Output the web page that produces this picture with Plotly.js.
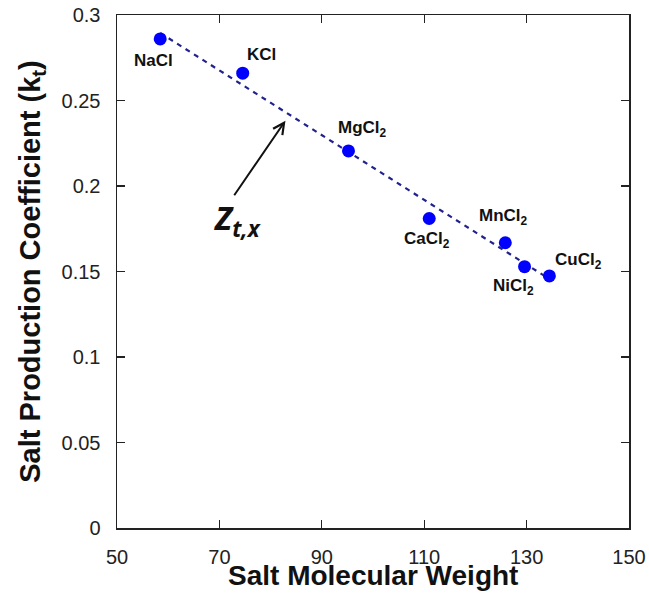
<!DOCTYPE html>
<html>
<head>
<meta charset="utf-8">
<script src="https://cdn.plot.ly/plotly-3.0.1.min.js"></script>
<style>html,body{margin:0;padding:0;background:#fff;}#chart{width:649px;height:605px;}</style>
</head>
<body>
<div id="chart"></div>
<script>
// Data
const salts = ["NaCl", "KCl", "MgCl<sub>2</sub>", "CaCl<sub>2</sub>", "MnCl<sub>2</sub>", "NiCl<sub>2</sub>", "CuCl<sub>2</sub>"];
const molecularWeight = [58.44, 74.55, 95.21, 110.98, 125.84, 129.6, 134.45];
const saltCoefficient = [0.286, 0.266, 0.2205, 0.181, 0.1668, 0.1528, 0.1474];
const fitX = [58.44, 134.45];
const fitY = [0.2895, 0.1456];
const arrowTail = [72.7, 0.1937];
const arrowHead = [82.9, 0.2382];
const xTicks = [50, 70, 90, 110, 130, 150];
const yTicks = [0, 0.05, 0.1, 0.15, 0.2, 0.25, 0.3];
const xTitle = 'Salt Molecular Weight';
const yTitle = 'Salt Production Coefficient (k<sub>t</sub>)';

// label offsets (pixels)
const labelShift = [[-7, -22], [19, 19], [14, 22], [-2, -22], [-2, 26], [-11, -20], [29, 15]];

const annotations = salts.map((s, i) => ({
  x: molecularWeight[i], y: saltCoefficient[i], xref: 'x', yref: 'y',
  text: '<b>' + s + '</b>', showarrow: false,
  xshift: labelShift[i][0], yshift: labelShift[i][1],
  font: {family: 'Liberation Sans, Arial, sans-serif', size: 17, color: '#111'}
}));
annotations.push({
  x: arrowHead[0], y: arrowHead[1], ax: arrowTail[0], ay: arrowTail[1],
  xref: 'x', yref: 'y', axref: 'x', ayref: 'y',
  showarrow: true, arrowhead: 5, arrowsize: 1.1, arrowwidth: 2, arrowcolor: '#111', text: ''
});
annotations.push({
  x: arrowTail[0], y: arrowTail[1], xref: 'x', yref: 'y',
  text: '<b><i>Z<sub>t,x</sub></i></b>', showarrow: false,
  xanchor: 'center', yanchor: 'top', xshift: 4, yshift: 3,
  font: {family: 'Open Sans, Liberation Sans, sans-serif', size: 32, color: '#111'}
});
// x-axis title placed to overlap the tick label band as in the reference
annotations.push({
  x: 0.5, y: 0, xref: 'paper', yref: 'paper',
  text: '<b>' + xTitle + '</b>', showarrow: false,
  xanchor: 'center', yanchor: 'middle', yshift: -47,
  font: {family: 'Liberation Sans, Arial, sans-serif', size: 28, color: '#111'}
});

const traces = [
  {
    x: fitX, y: fitY, mode: 'lines', type: 'scatter',
    line: {color: '#22228f', width: 2.2, dash: '5px,5px'}, hoverinfo: 'skip'
  },
  {
    x: molecularWeight, y: saltCoefficient, mode: 'markers', type: 'scatter',
    marker: {color: '#0000ff', size: 13, line: {width: 0}}
  }
];

const axisCommon = {
  showline: true, linecolor: '#222', linewidth: 1.5, mirror: 'ticks',
  ticks: 'inside', ticklen: 8, tickwidth: 1.2, tickcolor: '#222',
  showgrid: false, zeroline: false,
  tickfont: {family: 'Liberation Sans, Arial, sans-serif', size: 20, color: '#222'}
};

const layout = {
  width: 649, height: 605,
  margin: {l: 117, r: 20, t: 15, b: 77},
  paper_bgcolor: '#fff', plot_bgcolor: '#fff',
  showlegend: false,
  xaxis: Object.assign({}, axisCommon, {
    range: [50, 150], tickvals: xTicks, ticktext: xTicks.map(String),
    ticklabelstandoff: 10
  }),
  yaxis: Object.assign({}, axisCommon, {
    range: [0, 0.3], tickvals: yTicks, ticktext: yTicks.map(String),
    ticklabelstandoff: 11,
    title: {text: '<b>' + yTitle + '</b>', standoff: 12,
      font: {family: 'Liberation Sans, Arial, sans-serif', size: 29, color: '#111'}}
  }),
  annotations: annotations
};

Plotly.newPlot('chart', traces, layout, {displayModeBar: false, staticPlot: true});
</script>
</body>
</html>
